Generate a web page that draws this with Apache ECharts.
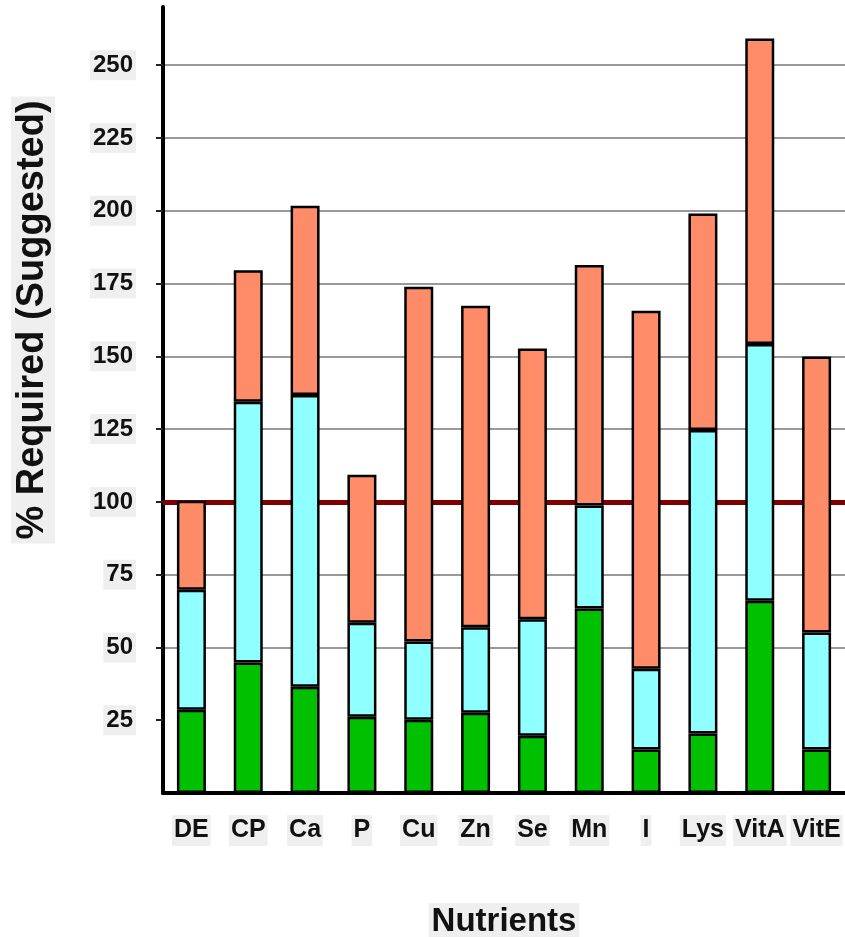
<!DOCTYPE html>
<html>
<head>
<meta charset="utf-8">
<script src="https://cdn.jsdelivr.net/npm/echarts@6/dist/echarts.min.js"></script>
<style>
  html, body { margin: 0; padding: 0; background: #fff; }
  #chart { width: 845px; height: 937px; }
</style>
</head>
<body>
<div id="chart"></div>
<script>
// nutrients on the x axis
const nutrients = ["DE", "CP", "Ca", "P", "Cu", "Zn", "Se", "Mn", "I", "Lys", "VitA", "VitE"];
// stacked pieces, % of requirement
const greenPart = [28.6, 44.8, 36.5, 26.2, 25.2, 27.6, 19.7, 63.4, 14.9, 20.4, 66.0, 14.9];
const cyanPart = [41.2, 89.6, 100.2, 32.3, 26.8, 29.3, 40.0, 35.4, 27.8, 104.3, 88.2, 40.2];
const salmonPart = [30.6, 45.2, 65.0, 50.8, 121.9, 110.5, 93.0, 82.6, 123.0, 74.4, 105.0, 94.8];
const yTicks = [25, 50, 75, 100, 125, 150, 175, 200, 225, 250];
const requiredLine = 100;

const font = "Liberation Sans, Arial, sans-serif";
const labelBg = "#efefef";

function barSeries(name, color, data) {
  return {
    name: name,
    type: "bar",
    stack: "total",
    barWidth: 29,
    z: 3,
    itemStyle: {
      color: color,
      borderColor: "#000",
      borderWidth: 2.5,
    },
    data: data,
  };
}

const series = [
  barSeries("green", "#00c000", greenPart),
  barSeries("cyan", "#90ffff", cyanPart),
  barSeries("salmon", "#ff8c69", salmonPart),
];
// dark red line at 100 %, under the bars
series[2].markLine = {
  z: 2,
  silent: true,
  symbol: "none",
  label: { show: false },
  lineStyle: { color: "#800000", width: 5, type: "solid" },
  data: [{ yAxis: requiredLine }],
};

const chart = echarts.init(document.getElementById("chart"));
chart.setOption({
  animation: false,
  grid: { left: 163, right: 0, top: 7, bottom: 144, outerBoundsMode: "none" },
  xAxis: {
    type: "category",
    data: nutrients,
    name: "Nutrients",
    nameLocation: "middle",
    nameGap: 110,
    nameTextStyle: {
      fontFamily: font,
      fontWeight: "bold",
      fontSize: 33,
      color: "#111",
      backgroundColor: labelBg,
      padding: [2, 3],
    },
    axisLine: { lineStyle: { color: "#000", width: 4 } },
    axisTick: { alignWithLabel: true, length: 6, lineStyle: { color: "#222", width: 2 } },
    axisLabel: {
      interval: 0,
      margin: 22,
      fontFamily: font,
      fontWeight: "bold",
      fontSize: 25,
      color: "#111",
      backgroundColor: labelBg,
      padding: [3, 2],
    },
  },
  yAxis: {
    type: "value",
    min: 0,
    max: 270,
    interval: 25,
    axisLine: { show: true, lineStyle: { color: "#000", width: 4 } },
    axisTick: { show: true, length: 7, customValues: yTicks, lineStyle: { color: "#222", width: 2 } },
    axisLabel: {
      customValues: yTicks,
      margin: 27,
      fontFamily: font,
      fontWeight: "bold",
      fontSize: 24,
      color: "#111",
      backgroundColor: labelBg,
      padding: [3, 3],
    },
    splitLine: {
      show: true,
      showMinLine: false,
      showMaxLine: true,
      lineStyle: { color: "#999", width: 2 },
    },
  },
  graphic: [
    {
      type: "text",
      x: 33,
      y: 320,
      rotation: Math.PI / 2,
      style: {
        text: "% Required (Suggested)",
        font: "bold 38px " + font,
        fill: "#111",
        textAlign: "center",
        textVerticalAlign: "middle",
        backgroundColor: labelBg,
        padding: [3, 4],
      },
    },
  ],
  series: series,
});
</script>
</body>
</html>
